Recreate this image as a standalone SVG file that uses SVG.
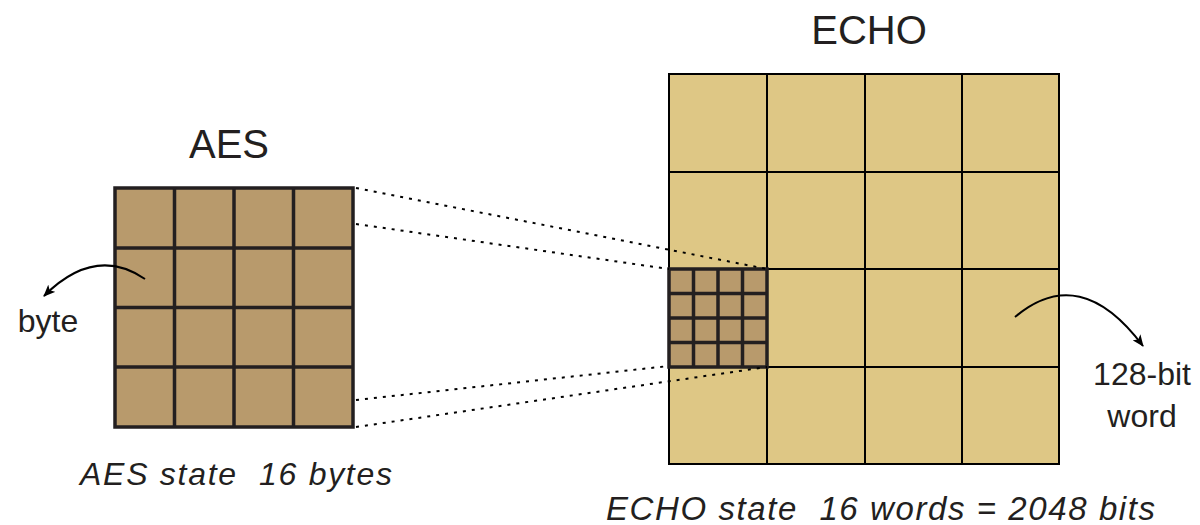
<svg xmlns="http://www.w3.org/2000/svg" width="1200" height="525" viewBox="0 0 1200 525">
<defs>
<style>
.t{font-family:"Liberation Sans",Arial,sans-serif;fill:#231f20}
.aes{fill:#b89a6c;stroke:#231f20;stroke-width:3.5}
.aesl{stroke:#231f20;stroke-width:3.5;fill:none}
.echo{fill:#dec785;stroke:#000;stroke-width:2}
.echol{stroke:#000;stroke-width:2;fill:none}
.dot{stroke:#000;stroke-width:2;stroke-dasharray:3 6;fill:none}
.arr{stroke:#000;stroke-width:2;fill:none;marker-end:url(#ah)}
</style>
<marker id="ah" viewBox="0 0 12 10" refX="11" refY="5" markerWidth="12" markerHeight="10" markerUnits="userSpaceOnUse" orient="auto">
<path d="M0,0 L12,5 L0,10 L3,5 Z" fill="#000"/>
</marker>
</defs>

<g id="aes-title"><text class="t" x="229" y="158" font-size="40" text-anchor="middle">AES</text></g>
<g id="echo-title"><text class="t" x="869" y="44" font-size="40" text-anchor="middle">ECHO</text></g>

<g id="echo-grid">
<rect class="echo" x="669" y="74" width="390" height="390"/>
<path class="echol" d="M767,74V464M865,74V464M962,74V464M669,172H1059M669,269H1059M669,367H1059"/>
</g>

<g id="echo-sub">
<rect class="aes" x="669" y="269" width="98" height="98"/>
<path class="aesl" d="M693.5,269V367M718,269V367M742.5,269V367M669,293.5H767M669,318H767M669,342.5H767"/>
</g>

<g id="aes-grid">
<rect class="aes" x="115" y="188" width="238" height="239"/>
<path class="aesl" d="M174.5,188V427M234,188V427M293.5,188V427M115,248H353M115,307.5H353M115,367H353"/>
</g>

<g id="connectors">
<path class="dot" d="M356,188L767,269"/>
<path class="dot" d="M356,224L669,269"/>
<path class="dot" d="M356,400L669,366"/>
<path class="dot" d="M356,427L767,367"/>
<path class="arr" d="M145,279Q95,245 44,296"/>
<path class="arr" d="M1015,317Q1080,262 1143,346"/>
</g>

<g id="byte-label"><text class="t" x="48" y="332" font-size="32" text-anchor="middle">byte</text></g>
<g id="word-label">
<text class="t" x="1142" y="385" font-size="32" text-anchor="middle">128-bit</text>
<text class="t" x="1142" y="427" font-size="32" text-anchor="middle">word</text>
</g>

<g id="aes-caption"><text class="t" x="80" y="485" font-size="32" font-style="italic" xml:space="preserve" textLength="312" lengthAdjust="spacing">AES state  16 bytes</text></g>
<g id="echo-caption"><text class="t" x="606" y="520" font-size="33" font-style="italic" xml:space="preserve" textLength="549" lengthAdjust="spacing">ECHO state  16 words = 2048 bits</text></g>
</svg>
